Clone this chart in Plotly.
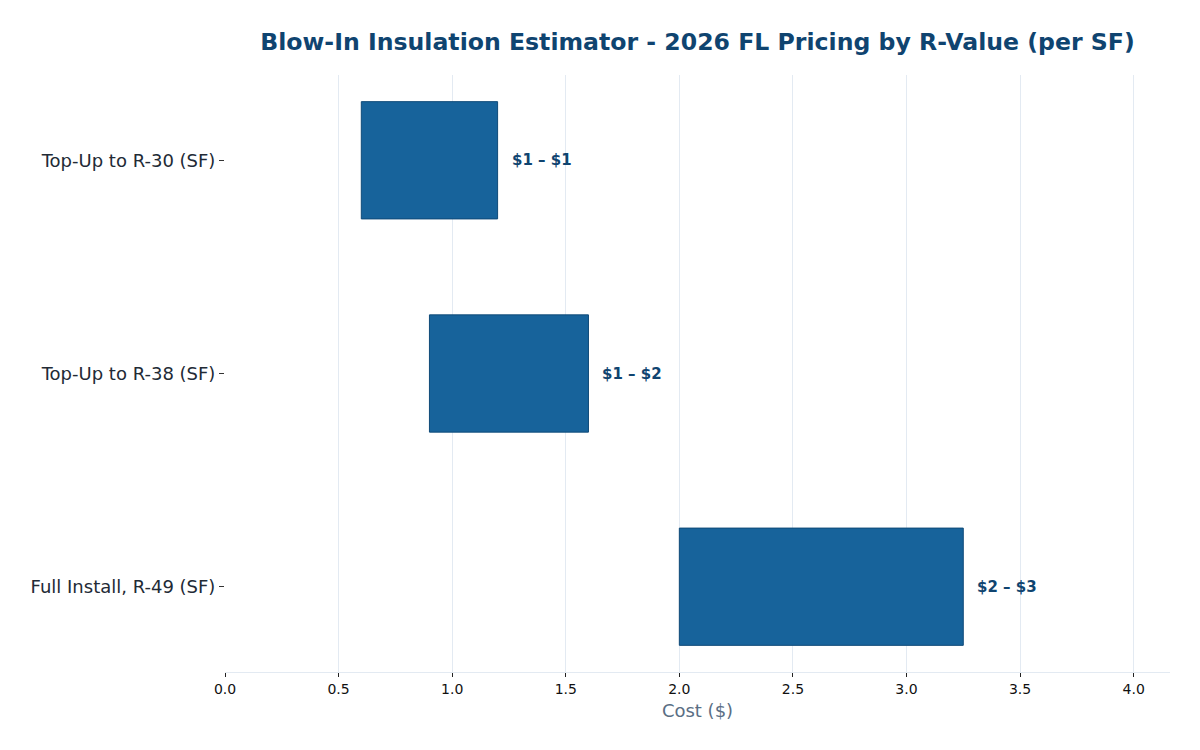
import plotly.graph_objects as go

categories = ["Top-Up to R-30 (SF)", "Top-Up to R-38 (SF)", "Full Install, R-49 (SF)"]
low_values = [0.60, 0.90, 2.00]
high_values = [1.20, 1.60, 3.25]
labels = ["$1 – $1", "$1 – $2", "$2 – $3"]

widths = [h - l for h, l in zip(high_values, low_values)]

fig = go.Figure(go.Bar(
    y=categories,
    x=widths,
    base=low_values,
    orientation="h",
    width=0.55,
    marker=dict(color="#17639b", line=dict(color="#0f4a78", width=1)),
    hoverinfo="skip",
))

for cat, hi, lab in zip(categories, high_values, labels):
    fig.add_annotation(
        x=hi, y=cat, xref="x", yref="y",
        text=f"<b>{lab}</b>", showarrow=False,
        xanchor="left", yanchor="middle", xshift=12,
        font=dict(family="DejaVu Sans", size=15, color="#0f4470"),
    )

fig.update_layout(
    width=1200, height=750,
    margin=dict(l=225, r=30, t=75, b=78),
    paper_bgcolor="white", plot_bgcolor="white",
    showlegend=False,
    title=dict(
        text="<b>Blow-In Insulation Estimator - 2026 FL Pricing by R-Value (per SF)</b>",
        x=0.5, xref="paper", xanchor="center", y=0.944, yanchor="middle",
        font=dict(family="DejaVu Sans", size=23.6, color="#0f4470"),
    ),
    xaxis=dict(
        range=[0, 4.16],
        tickvals=[0, 0.5, 1, 1.5, 2, 2.5, 3, 3.5, 4],
        ticktext=["0.0", "0.5", "1.0", "1.5", "2.0", "2.5", "3.0", "3.5", "4.0"],
        showgrid=True, gridcolor="#e3eaf2", gridwidth=1,
        zeroline=False,
        showline=True, linecolor="#e3eaf2",
        ticks="outside", ticklen=4, tickcolor="#222",
        tickfont=dict(family="DejaVu Sans", size=14, color="#111"),
        title=dict(text="Cost ($)", font=dict(family="DejaVu Sans", size=18, color="#5a6e84"), standoff=8),
    ),
    yaxis=dict(
        categoryorder="array", categoryarray=categories[::-1],
        range=[-0.4, 2.4],
        showgrid=False, zeroline=False, showline=False,
        ticks="outside", ticklen=5, tickcolor="#333",
        tickfont=dict(family="DejaVu Sans", size=18, color="#222a35"),
    ),
)

fig.write_html("out.html")
